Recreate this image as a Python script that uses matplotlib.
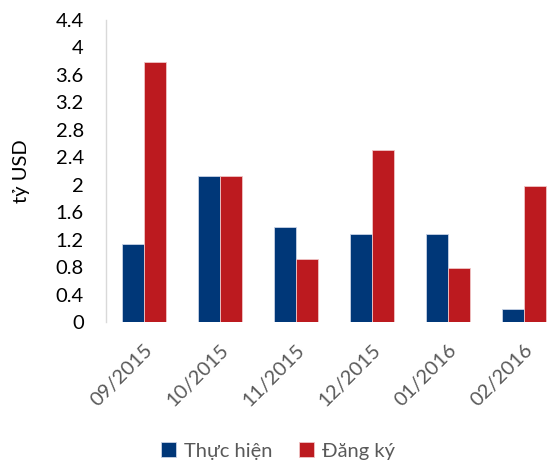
import matplotlib.pyplot as plt
import numpy as np

# Vốn FDI theo tháng (tỷ USD)
thang = ['09/2015', '10/2015', '11/2015', '12/2015', '01/2016', '02/2016']
thuc_hien = [1.14, 2.13, 1.38, 1.28, 1.28, 0.19]
dang_ky = [3.79, 2.12, 0.92, 2.51, 0.79, 1.98]
y_ticks = [0, 0.4, 0.8, 1.2, 1.6, 2, 2.4, 2.8, 3.2, 3.6, 4, 4.4]

plt.rcParams['font.family'] = ['Lato', 'DejaVu Sans']

fig = plt.figure(figsize=(5.5, 4.61), dpi=100)
# trục kéo dài quá mép phải của hình
ax = fig.add_axes([106 / 550, 1 - 322 / 461, 456 / 550, 302 / 461])

x = np.arange(len(thang))
w = 0.29
ax.bar(x - w / 2, thuc_hien, w, color='#003778', edgecolor='#c9d3e6', linewidth=0.6, label='Thực hiện')
ax.bar(x + w / 2, dang_ky, w, color='#bc1a1f', edgecolor='#efc5c6', linewidth=0.6, label='Đăng ký')

ax.set_xlim(-0.5, len(thang) - 0.5)
ax.set_ylim(0, 4.4)
ax.set_yticks(y_ticks)
ax.set_yticklabels([f'{v:g}' for v in y_ticks], fontsize=14.5, color='black')
ax.tick_params(axis='y', length=0, pad=16)
ax.set_xticks(x)
ax.set_xticklabels(thang, rotation=45, ha='right', rotation_mode='anchor',
                   fontsize=14.5, color='#595959')
ax.tick_params(axis='x', length=0, pad=14)

for s in ['top', 'right', 'bottom']:
    ax.spines[s].set_visible(False)
ax.spines['left'].set_color('#d9d9d9')
ax.spines['left'].set_linewidth(1)

ax.set_ylabel('tỷ USD', fontsize=14.5, color='black')
ax.yaxis.set_label_coords(-76 / 456, 0.5)

fig.legend(loc='center', bbox_to_anchor=(278 / 550, 1 - 451 / 461), ncol=2, frameon=False,
           fontsize=14.5, labelcolor='#595959', handlelength=0.75, handleheight=0.75,
           handletextpad=0.4, columnspacing=1.3)

fig.savefig('out.png', dpi=100)
